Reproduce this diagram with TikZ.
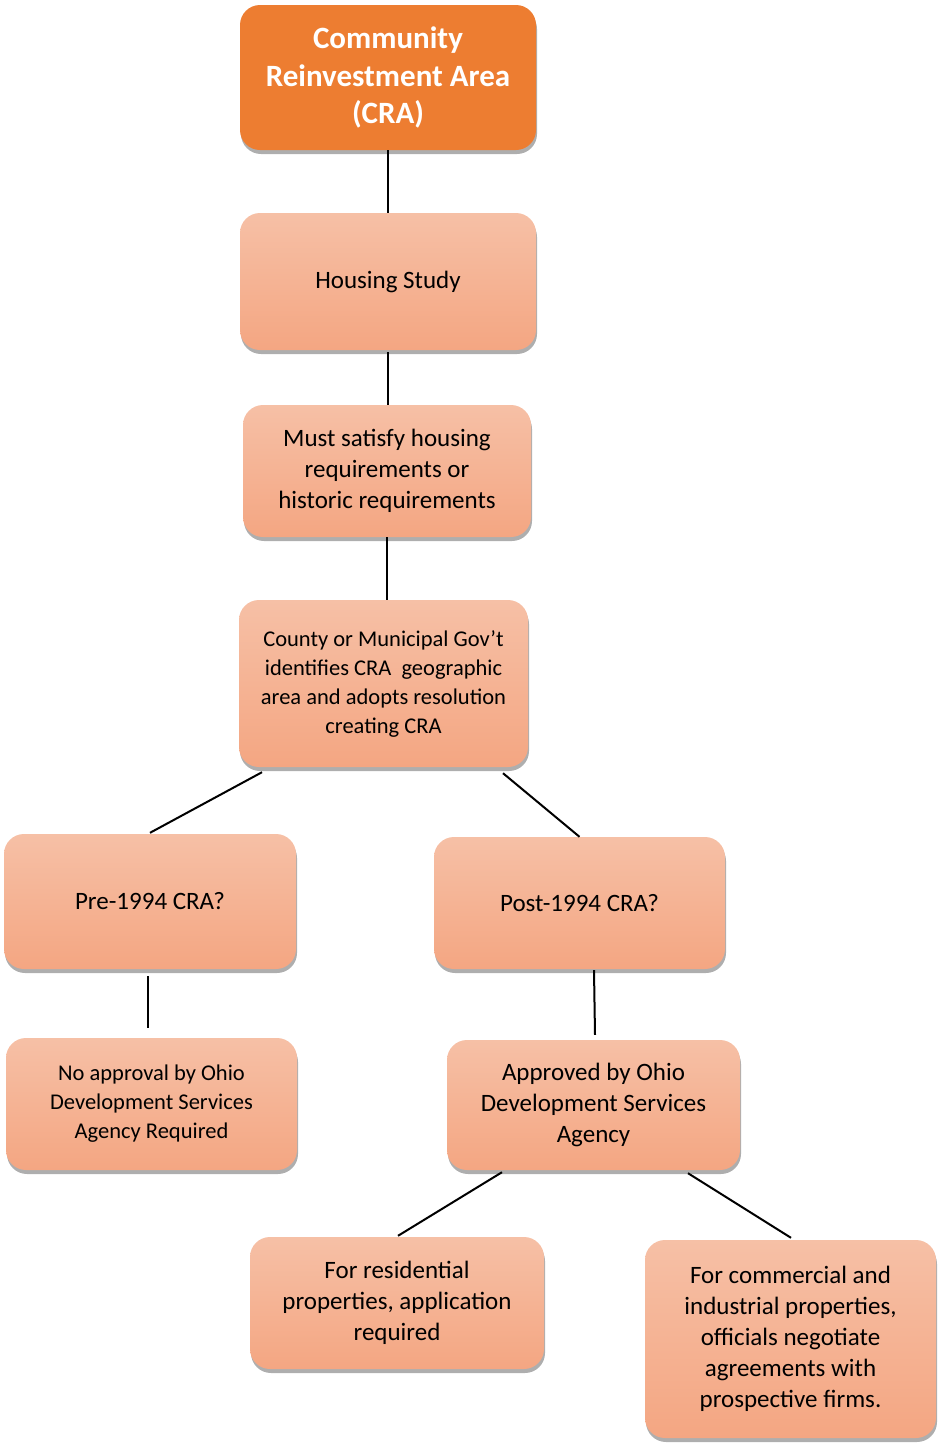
\documentclass[tikz,border=0pt]{standalone}
\usepackage{fontspec}
\setmainfont{Carlito}
\usetikzlibrary{shadows,shadings}
\definecolor{boxtop}{RGB}{246,192,166}
\definecolor{boxbot}{RGB}{244,166,130}
\definecolor{titlefill}{RGB}{237,125,49}
\tikzset{
  base/.style={rounded corners=20pt, inner sep=0pt, align=center,
    drop shadow={shadow xshift=1pt, shadow yshift=-4pt, fill=black!45, opacity=.7}},
  softbox/.style={base, top color=boxtop, bottom color=boxbot, draw=none,
    font=\fontsize{25}{31}\selectfont},
  smallbox/.style={softbox, font=\fontsize{22.5}{29}\selectfont},
  titlebox/.style={base, fill=titlefill, text=white, font=\bfseries\fontsize{31}{37.5}\selectfont},
  link/.style={line width=2pt, black}
}
\begin{document}
\begin{tikzpicture}[x=1pt,y=1pt]
\useasboundingbox (0,0) rectangle (938,-1443);
\node[titlebox, minimum width=296, minimum height=145] (cra) at (388,-77.5)
  {Community\\Reinvestment Area\\(CRA)};
\node[softbox, minimum width=296, minimum height=137] (housing) at (388,-281.5)
  {Housing Study};
\node[softbox, minimum width=288, minimum height=132] (must) at (387,-471)
  {Must satisfy housing\\requirements or\\historic requirements};
\node[smallbox, minimum width=289, minimum height=167] (county) at (383.5,-683.5)
  {County or Municipal Gov’t\\identifies CRA\ \ geographic\\area and adopts resolution\\creating CRA};
\node[softbox, minimum width=292, minimum height=135] (pre) at (150,-901.5)
  {Pre-1994 CRA?};
\node[softbox, minimum width=291, minimum height=132] (post) at (579.5,-903)
  {Post-1994 CRA?};
\node[smallbox, minimum width=291, minimum height=132] (noappr) at (151.5,-1104)
  {No approval by Ohio\\Development Services\\Agency Required};
\node[softbox, minimum width=293, minimum height=130] (appr) at (593.5,-1105)
  {Approved by Ohio\\Development Services\\Agency};
\node[softbox, minimum width=294, minimum height=132] (resid) at (397,-1303)
  {For residential\\properties, application\\required};
\node[softbox, minimum width=291, minimum height=198] (comm) at (790.5,-1339)
  {For commercial and\\industrial properties,\\officials negotiate\\agreements with\\prospective firms.};

\draw[link] (cra.south) -- (housing.north);
\draw[link] ([yshift=-2pt]housing.south) -- ([xshift=1pt]must.north);
\draw[link] (must.south) -- ([xshift=3.5pt]county.north);
\draw[link] ([xshift=-121.5pt,yshift=-5pt]county.south) -- ([yshift=1pt]pre.north);
\draw[link] ([xshift=119.5pt,yshift=-6pt]county.south) -- (post.north);
\draw[link] ([xshift=-2pt,yshift=-7pt]pre.south) -- ([xshift=-3.5pt,yshift=10pt]noappr.north);
\draw[link] ([xshift=14.5pt,yshift=-1pt]post.south) -- ([xshift=1.5pt,yshift=5pt]appr.north);
\draw[link] ([xshift=-91.5pt,yshift=-2pt]appr.south) -- ([xshift=1pt,yshift=1pt]resid.north);
\draw[link] ([xshift=94.5pt,yshift=-3pt]appr.south) -- ([xshift=0.5pt,yshift=2pt]comm.north);
\end{tikzpicture}
\end{document}
